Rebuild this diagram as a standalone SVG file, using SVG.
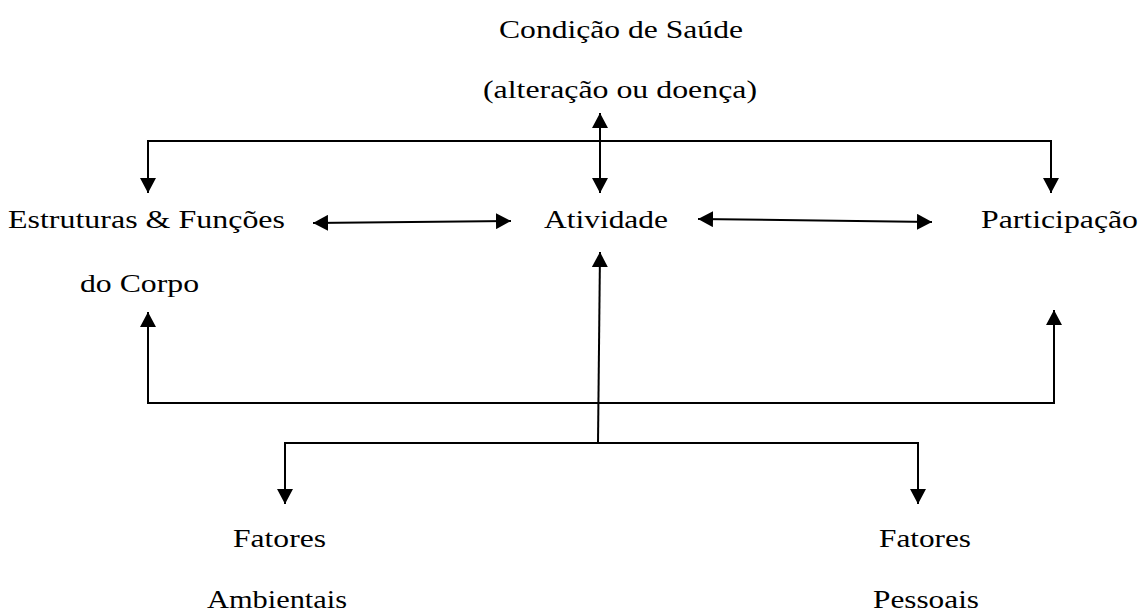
<svg xmlns="http://www.w3.org/2000/svg" width="1142" height="612" viewBox="0 0 1142 612">
<style>
text{font-family:"Liberation Serif","Times New Roman",serif;font-size:25px;fill:#000}
.c{stroke:#000;stroke-width:2;fill:none}
</style>
<defs>
<marker id="ah" markerUnits="userSpaceOnUse" markerWidth="16" markerHeight="16" refX="15" refY="8" orient="auto-start-reverse" viewBox="0 0 16 16">
<path d="M0,0 L15,8 L0,16 Z" fill="#000"/>
</marker>
</defs>
<rect width="1142" height="612" fill="#fff"/>
<g id="condicao"><text x="499" y="38" textLength="244" lengthAdjust="spacingAndGlyphs">Condição de Saúde</text><text x="483" y="98" textLength="274" lengthAdjust="spacingAndGlyphs">(alteração ou doença)</text></g>
<g id="estruturas"><text x="8" y="228" textLength="277" lengthAdjust="spacingAndGlyphs">Estruturas &amp; Funções</text><text x="80" y="292" textLength="119" lengthAdjust="spacingAndGlyphs">do Corpo</text></g>
<g id="atividade"><text x="544" y="228" textLength="124" lengthAdjust="spacingAndGlyphs">Atividade</text></g>
<g id="participacao"><text x="981" y="228" textLength="157" lengthAdjust="spacingAndGlyphs">Participação</text></g>
<g id="ambientais"><text x="233" y="547" textLength="93" lengthAdjust="spacingAndGlyphs">Fatores</text><text x="207" y="608" textLength="140" lengthAdjust="spacingAndGlyphs">Ambientais</text></g>
<g id="pessoais"><text x="879" y="547" textLength="92" lengthAdjust="spacingAndGlyphs">Fatores</text><text x="873" y="608" textLength="106" lengthAdjust="spacingAndGlyphs">Pessoais</text></g>
<g id="connectors">
<path class="c" d="M600,113 L600,193" marker-start="url(#ah)" marker-end="url(#ah)"/>
<path class="c" d="M148,193 L148,141 L1051,141 L1051,193" marker-start="url(#ah)" marker-end="url(#ah)"/>
<path class="c" d="M313,223 L511,221" marker-start="url(#ah)" marker-end="url(#ah)"/>
<path class="c" d="M698,219 L932,222" marker-start="url(#ah)" marker-end="url(#ah)"/>
<path class="c" d="M148,312 L148,403 L1054,403 L1054,310" marker-start="url(#ah)" marker-end="url(#ah)"/>
<path class="c" d="M598,443 L600,252" marker-end="url(#ah)"/>
<path class="c" d="M285,504 L285,443 L918,443 L918,504" marker-start="url(#ah)" marker-end="url(#ah)"/>
</g>
</svg>
